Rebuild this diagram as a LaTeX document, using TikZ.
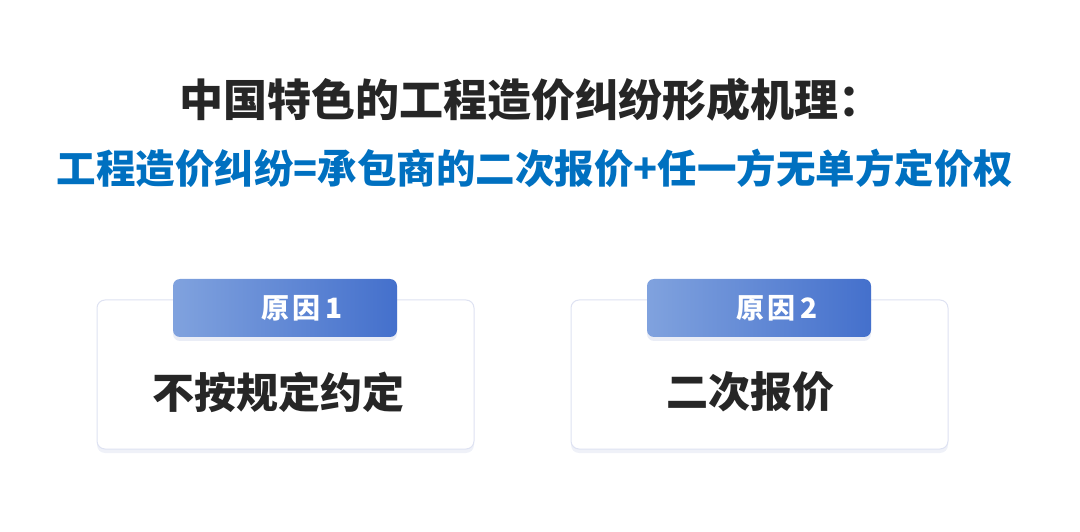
\documentclass[tikz,border=0pt]{standalone}
\usepackage{fontspec}
\usepackage{xcolor}
\usetikzlibrary{shadows}
\newfontfamily\cjk{Noto Sans CJK SC}

\tikzset{
  card/.style={draw=cardline,line width=1pt,fill=white,rounded corners=8pt,
    minimum width=377pt,minimum height=149pt,
    drop shadow={opacity=0.12,shadow xshift=0pt,shadow yshift=-4pt,fill=cardshade}},
  tab/.style={rounded corners=7pt,left color=tableft,right color=tabright,
    minimum width=224pt,minimum height=58pt,
    drop shadow={opacity=0.15,shadow xshift=0pt,shadow yshift=-4pt,fill=cardshade}},
  tabtext/.style={text=white,font=\cjk\bfseries\fontsize{28}{32}\selectfont},
  cardtext/.style={text=titlegray,font=\cjk\bfseries\fontsize{42}{48}\selectfont}
}

\begin{document}
\begin{tikzpicture}[x=1pt,y=1pt]
% Define colours
\definecolor{titlegray}{RGB}{38,38,38}
\definecolor{subblue}{RGB}{0,112,192}
\definecolor{cardline}{RGB}{222,226,242}
\definecolor{cardshade}{RGB}{120,140,200}
\definecolor{tableft}{RGB}{128,162,222}
\definecolor{tabright}{RGB}{68,112,204}

\useasboundingbox (0,0) rectangle (1080,531);

% Headings
\node[text=titlegray,font=\cjk\bfseries\fontsize{44}{50}\selectfont] (title) at (531,431) {中国特色的工程造价纠纷形成机理：};
\node[text=subblue,font=\cjk\bfseries\fontsize{39.5}{46}\selectfont] (formula) at (535,363) {工程造价纠纷=承包商的二次报价+任一方无单方定价权};

% Reason cards
\node[card] (card1) at (285.5,156.5) {};
\node[card] (card2) at (759.5,156.5) {};
\node[tab] (tab1) at (285,223) {};
\node[tab] (tab2) at (759,223) {};

% Labels
\node[tabtext] (reason1) at (302,223) {原\hspace{3pt}因\hspace{5pt}1};
\node[tabtext] (reason2) at (777,223) {原\hspace{3pt}因\hspace{5pt}2};
\node[cardtext] (cause1) at (278,139) {不按规定约定};
\node[cardtext] (cause2) at (750,139) {二次报价};
\end{tikzpicture}
\end{document}
